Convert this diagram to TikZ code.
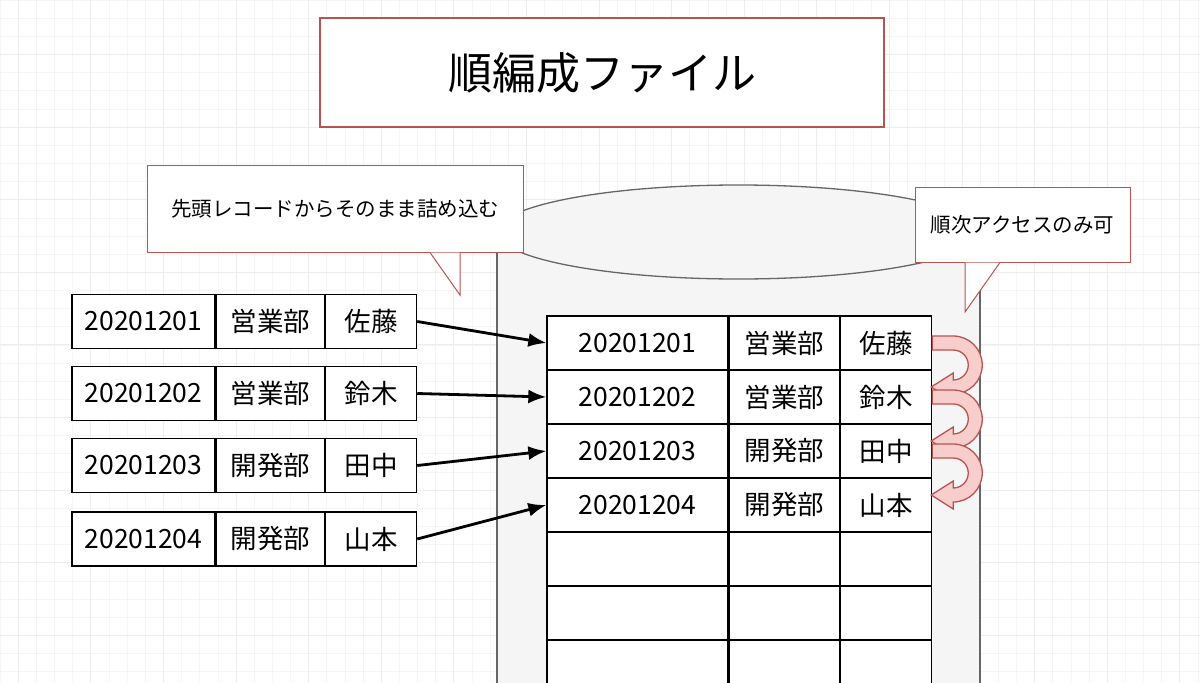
\documentclass[tikz,border=0pt]{standalone}
\usepackage{fontspec}
\setmainfont{Noto Sans CJK JP}
\usetikzlibrary{positioning,arrows.meta}
\definecolor{redline}{HTML}{B85450}
\definecolor{pinkfill}{HTML}{F8CECC}
\definecolor{cylfill}{HTML}{F5F5F5}
\definecolor{cylline}{HTML}{666666}

\begin{document}
\begin{tikzpicture}[x=1pt,y=-1pt]
\tikzstyle{title} = [rectangle, draw=redline, line width=2.5pt, fill=white, minimum width=564pt, minimum height=109pt, font=\fontsize{44}{50}\selectfont, inner sep=0pt]
\tikzstyle{note} = [rectangle, draw=redline, line width=1pt, fill=white, font=\fontsize{20.5}{24}\selectfont, inner sep=0pt]
\tikzstyle{cell} = [rectangle, draw=black, line width=1.3pt, fill=white, minimum height=54pt, inner sep=0pt, font=\fontsize{26.5}{30}\selectfont]
\tikzstyle{arrow} = [line width=2.8pt, -{Latex[length=18pt,width=14pt]}]

\useasboundingbox (0,0) rectangle (1200,683);
%grid
\fill[white] (0,0) rectangle (1200,683);
\foreach \i in {0,...,66} {
  \draw[line width=0.6pt, black!4] (\i*18.15,0) -- (\i*18.15,683);
}
\foreach \i in {0,...,38} {
  \draw[line width=0.6pt, black!4] (0,\i*18.15) -- (1200,\i*18.15);
}
\foreach \i in {0,...,16} {
  \draw[line width=1pt, black!7] (18.3+\i*72.6,0) -- (18.3+\i*72.6,683);
}
\foreach \i in {0,...,9} {
  \draw[line width=1pt, black!7] (0,54.5+\i*72.6) -- (1200,54.5+\i*72.6);
}

%title
\node (title) [title] at (602,72.5) {順編成ファイル};

%cylinder
\fill[cylfill] (497,232) -- (497,690) -- (980,690) -- (980,232) -- cycle;
\draw[cylline, line width=1.3pt] (497,232) -- (497,690) (980,232) -- (980,690);
\draw[cylline, line width=1.3pt, fill=cylfill] (738.5,232) ellipse [x radius=241.5, y radius=47];

%notes
\node (note1) [note, minimum width=376pt, minimum height=87pt] at (335,208.5) {先頭レコードからそのまま詰め込む};
\fill[white] ([xshift=95pt]note1.south) -- (460,295) -- ([xshift=125pt]note1.south) -- cycle;
\draw[redline, line width=1pt] ([xshift=95pt]note1.south) -- (460,295) -- ([xshift=125pt]note1.south);
\node (note2) [note, minimum width=215pt, minimum height=75pt] at (1022.5,224.5) {順次アクセスのみ可};
\fill[white] ([xshift=-57.5pt]note2.south) -- (965,312) -- ([xshift=-22.5pt]note2.south) -- cycle;
\draw[redline, line width=1pt] ([xshift=-57.5pt]note2.south) -- (965,312) -- ([xshift=-22.5pt]note2.south);

%left records
\foreach \n/\y/\d/\b/\p in {1/321.5/20201201/営業部/佐藤, 2/393.5/20201202/営業部/鈴木, 3/465.5/20201203/開発部/田中, 4/539/20201204/開発部/山本} {
  \node (l\n a) [cell, minimum width=143pt] at (143.5,\y) {\d};
  \node (l\n b) [cell, minimum width=108pt, right=0pt of l\n a] {\b};
  \node (l\n c) [cell, minimum width=91pt, right=0pt of l\n b] {\p};
}

%file records
\foreach \n/\d/\b/\p in {1/20201201/営業部/佐藤, 2/20201202/営業部/鈴木, 3/20201203/開発部/田中, 4/20201204/開発部/山本, 5///, 6///, 7///} {
  \node (r\n a) [cell, minimum width=181pt] at (637.5,289+\n*54) {\d};
  \node (r\n b) [cell, minimum width=110pt, right=0pt of r\n a] {\b};
  \node (r\n c) [cell, minimum width=91pt, right=0pt of r\n b] {\p};
}

%arrows
\foreach \n in {1,...,4} {
  \draw [arrow] (l\n c.east) -- (r\n a.west);
}

%access order
\foreach \n in {1,2,3} {
  \path (r\n c.east) coordinate (s\n);
  \draw[redline, line width=1.3pt, fill=pinkfill]
    ([yshift=7pt]s\n) -- ++(21,0) arc[start angle=-90, end angle=90, radius=29]
    -- ++(0,7) -- ++(-22,-14) -- ++(22,-14) -- ++(0,7)
    arc[start angle=90, end angle=-90, radius=15] -- ([yshift=-7pt]s\n) -- cycle;
}
\end{tikzpicture}
\end{document}
